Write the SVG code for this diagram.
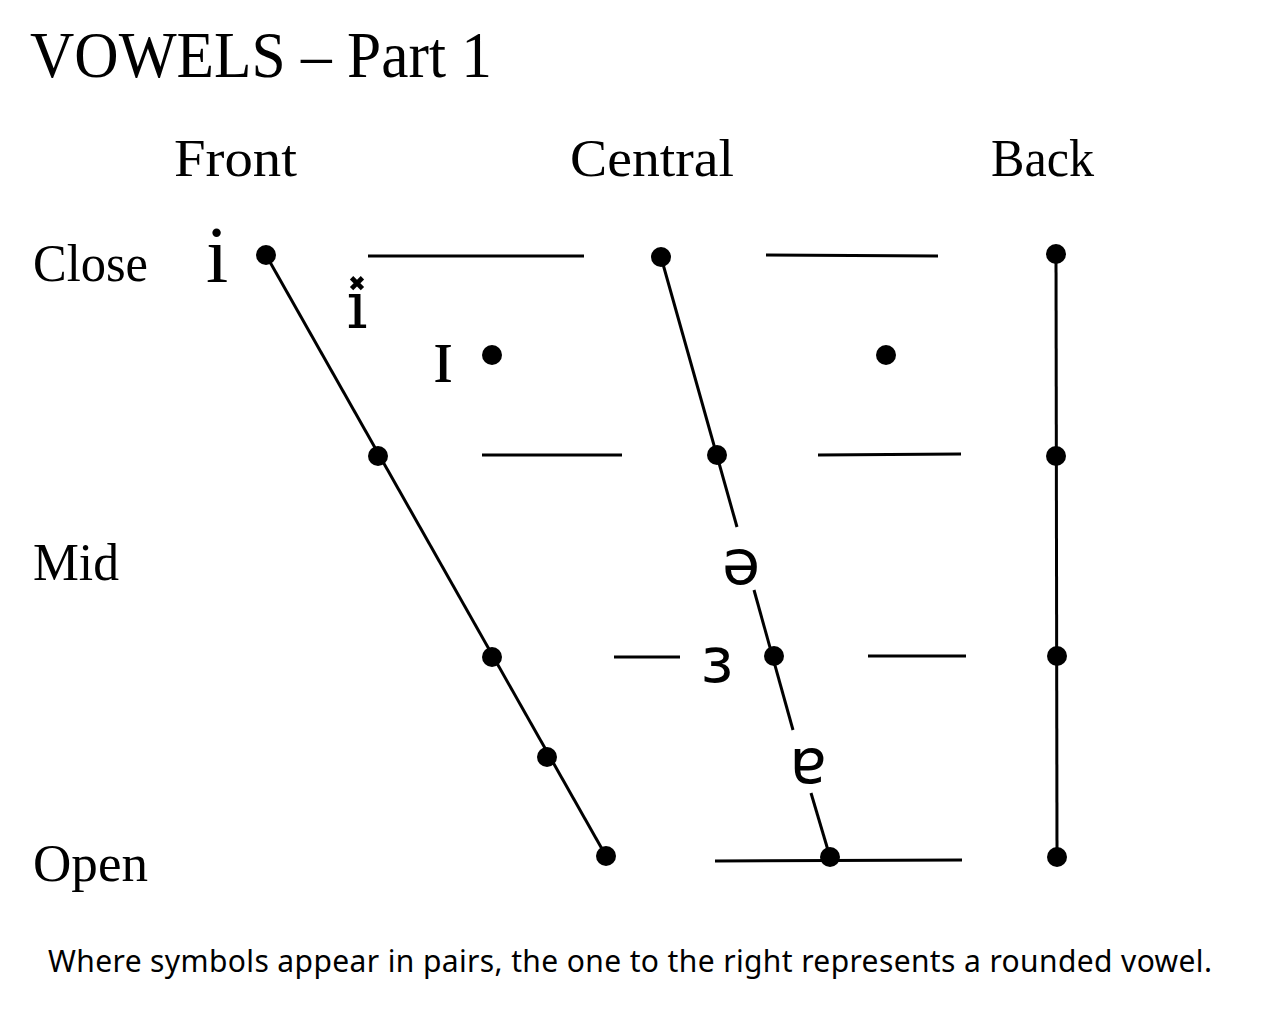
<svg xmlns="http://www.w3.org/2000/svg" width="1264" height="1036" viewBox="0 0 1264 1036">
<style>
.t{font-family:"Liberation Serif","DejaVu Serif",serif;fill:#000}
.ln{stroke:#000;stroke-width:3;fill:none}
.d{fill:#000}
</style>
<rect width="1264" height="1036" fill="#fff"/>
<text class="t" x="30" y="77" font-size="66" textLength="462" lengthAdjust="spacingAndGlyphs">VOWELS – Part 1</text>
<g id="headers">
<text class="t" x="174" y="176" font-size="52" textLength="123" lengthAdjust="spacingAndGlyphs">Front</text>
<text class="t" x="570" y="176" font-size="52" textLength="164" lengthAdjust="spacingAndGlyphs">Central</text>
<text class="t" x="991" y="176" font-size="52" textLength="103" lengthAdjust="spacingAndGlyphs">Back</text>
<text class="t" x="33" y="281" font-size="52" textLength="115" lengthAdjust="spacingAndGlyphs">Close</text>
<text class="t" x="33" y="580" font-size="52" textLength="86" lengthAdjust="spacingAndGlyphs">Mid</text>
<text class="t" x="33" y="881" font-size="52" textLength="115" lengthAdjust="spacingAndGlyphs">Open</text>
</g>
<g id="connectors">
<line class="ln" x1="266" y1="255" x2="606" y2="856"/>
<line class="ln" x1="661" y1="257" x2="737" y2="527"/>
<line class="ln" x1="754" y1="590" x2="793" y2="730"/>
<line class="ln" x1="811" y1="793" x2="830" y2="857"/>
<line class="ln" x1="1056" y1="254" x2="1057" y2="857"/>
<line class="ln" x1="368" y1="256" x2="584" y2="256"/>
<line class="ln" x1="766" y1="255" x2="938" y2="256"/>
<line class="ln" x1="482" y1="455" x2="622" y2="455"/>
<line class="ln" x1="818" y1="455" x2="961" y2="454"/>
<line class="ln" x1="614" y1="657" x2="680" y2="657"/>
<line class="ln" x1="868" y1="656" x2="966" y2="656"/>
<line class="ln" x1="715" y1="861" x2="962" y2="860"/>
</g>
<g id="dots">
<circle class="d" cx="266" cy="255" r="10"/>
<circle class="d" cx="378" cy="456" r="10"/>
<circle class="d" cx="492" cy="657" r="10"/>
<circle class="d" cx="547" cy="757" r="10"/>
<circle class="d" cx="606" cy="856" r="10"/>
<circle class="d" cx="661" cy="257" r="10"/>
<circle class="d" cx="717" cy="455" r="10"/>
<circle class="d" cx="774" cy="656" r="10"/>
<circle class="d" cx="830" cy="857" r="10"/>
<circle class="d" cx="1056" cy="254" r="10"/>
<circle class="d" cx="1056" cy="456" r="10"/>
<circle class="d" cx="1057" cy="656" r="10"/>
<circle class="d" cx="1057" cy="857" r="10"/>
<circle class="d" cx="492" cy="355" r="10"/>
<circle class="d" cx="886" cy="355" r="10"/>
</g>
<g id="symbols">
<text class="t" x="217" y="282" font-size="80" text-anchor="middle">i</text>
<text x="357" y="328" font-size="66" text-anchor="middle" style="font-family:'DejaVu Serif',serif">ı̽</text>
<text class="t" x="443" y="382" font-size="80" text-anchor="middle">ɪ</text>
<text class="t" x="741" y="584" font-size="62" text-anchor="middle" style="font-family:'DejaVu Sans',sans-serif">ə</text>
<text class="t" x="717" y="682" font-size="62" text-anchor="middle" style="font-family:'DejaVu Sans',sans-serif">ɜ</text>
<text class="t" x="808" y="783" font-size="62" text-anchor="middle" style="font-family:'DejaVu Sans',sans-serif">ɐ</text>
</g>
<text x="48" y="972" font-size="30" textLength="1164" style="font-family:'Noto Sans','Open Sans',sans-serif">Where symbols appear in pairs, the one to the right represents a rounded vowel.</text>
</svg>
